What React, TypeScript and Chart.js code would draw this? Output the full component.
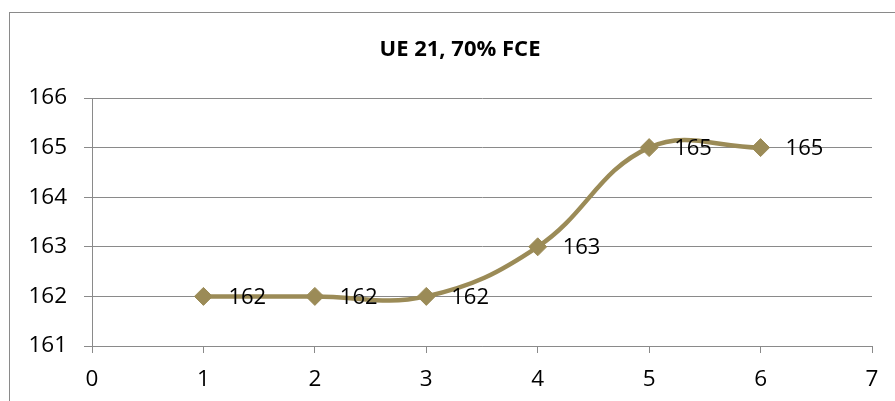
import React, { useEffect, useRef } from "react";
import { Chart, registerables } from "chart.js";

Chart.register(...registerables);

const titleText = "UE 21, 70% FCE";
const xValues = [1, 2, 3, 4, 5, 6];
const yValues = [162, 162, 162, 163, 165, 165];
const xMin = 0;
const xMax = 7;
const yMin = 161;
const yMax = 166;

const lineColor = "#9B8B57";
const gridColor = "#8A8A8A";
const fontFamily = "'Open Sans', 'Liberation Sans', sans-serif";

const frameTitleLabels = {
  id: "frameTitleLabels",
  beforeDraw(chart: any) {
    const ctx = chart.ctx;
    ctx.save();
    ctx.strokeStyle = "#8A8A8A";
    ctx.lineWidth = 1;
    ctx.strokeRect(9.5, 12.5, 900, 430);
    ctx.font = `bold 22px ${fontFamily}`;
    ctx.fillStyle = "#000";
    ctx.textAlign = "center";
    ctx.textBaseline = "middle";
    ctx.fillText(titleText, 460, 50);
    ctx.restore();
  },
  afterDatasetsDraw(chart: any) {
    const ctx = chart.ctx;
    const meta = chart.getDatasetMeta(0);
    ctx.save();
    ctx.font = `22px ${fontFamily}`;
    ctx.fillStyle = "#000";
    ctx.textAlign = "left";
    ctx.textBaseline = "middle";
    meta.data.forEach((pt: any, i: number) => {
      ctx.fillText(String(yValues[i]), pt.x + 25, pt.y + 1);
    });
    ctx.restore();
  },
};

export default function App() {
  const ref = useRef<HTMLCanvasElement | null>(null);

  useEffect(() => {
    if (!ref.current) return;
    const chart = new Chart(ref.current, {
      type: "scatter",
      data: {
        datasets: [
          {
            data: xValues.map((x, i) => ({ x, y: yValues[i] })),
            showLine: true,
            borderColor: lineColor,
            backgroundColor: lineColor,
            borderWidth: 4.5,
            tension: 0.4,
            pointStyle: "rectRot",
            pointRadius: 9,
            pointHoverRadius: 9,
            pointBackgroundColor: lineColor,
            pointBorderColor: lineColor,
            pointBorderWidth: 1,
          },
        ],
      },
      options: {
        animation: false,
        responsive: false,
        maintainAspectRatio: false,
        layout: { padding: { left: 0, right: 48, top: 98, bottom: 0 } },
        plugins: {
          legend: { display: false },
          tooltip: { enabled: false },
          title: { display: false },
        },
        scales: {
          x: {
            type: "linear",
            min: xMin,
            max: xMax,
            afterFit(scale: any) {
              scale.height = 74;
            },
            ticks: {
              stepSize: 1,
              color: "#000",
              font: { family: fontFamily, size: 22.5 },
              padding: 13,
              maxRotation: 0,
            },
            grid: {
              drawOnChartArea: false,
              drawTicks: true,
              tickLength: 7,
              color: gridColor,
            },
            border: { display: true, color: gridColor, width: 1 },
          },
          y: {
            type: "linear",
            min: yMin,
            max: yMax,
            afterFit(scale: any) {
              scale.width = 92;
            },
            ticks: {
              stepSize: 1,
              color: "#000",
              font: { family: fontFamily, size: 22.5 },
              padding: 17,
            },
            grid: {
              color: gridColor,
              tickLength: 8,
              lineWidth: 1,
            },
            border: { display: true, color: gridColor, width: 1 },
          },
        },
      },
      plugins: [frameTitleLabels],
    });
    return () => chart.destroy();
  }, []);

  return (
    <div
      style={{
        position: "fixed",
        left: 0,
        top: 0,
        width: 895,
        height: 401,
        overflow: "hidden",
        background: "#fff",
      }}
    >
      <canvas ref={ref} width={920} height={420} style={{ display: "block", width: 920, height: 420 }} />
    </div>
  );
}
